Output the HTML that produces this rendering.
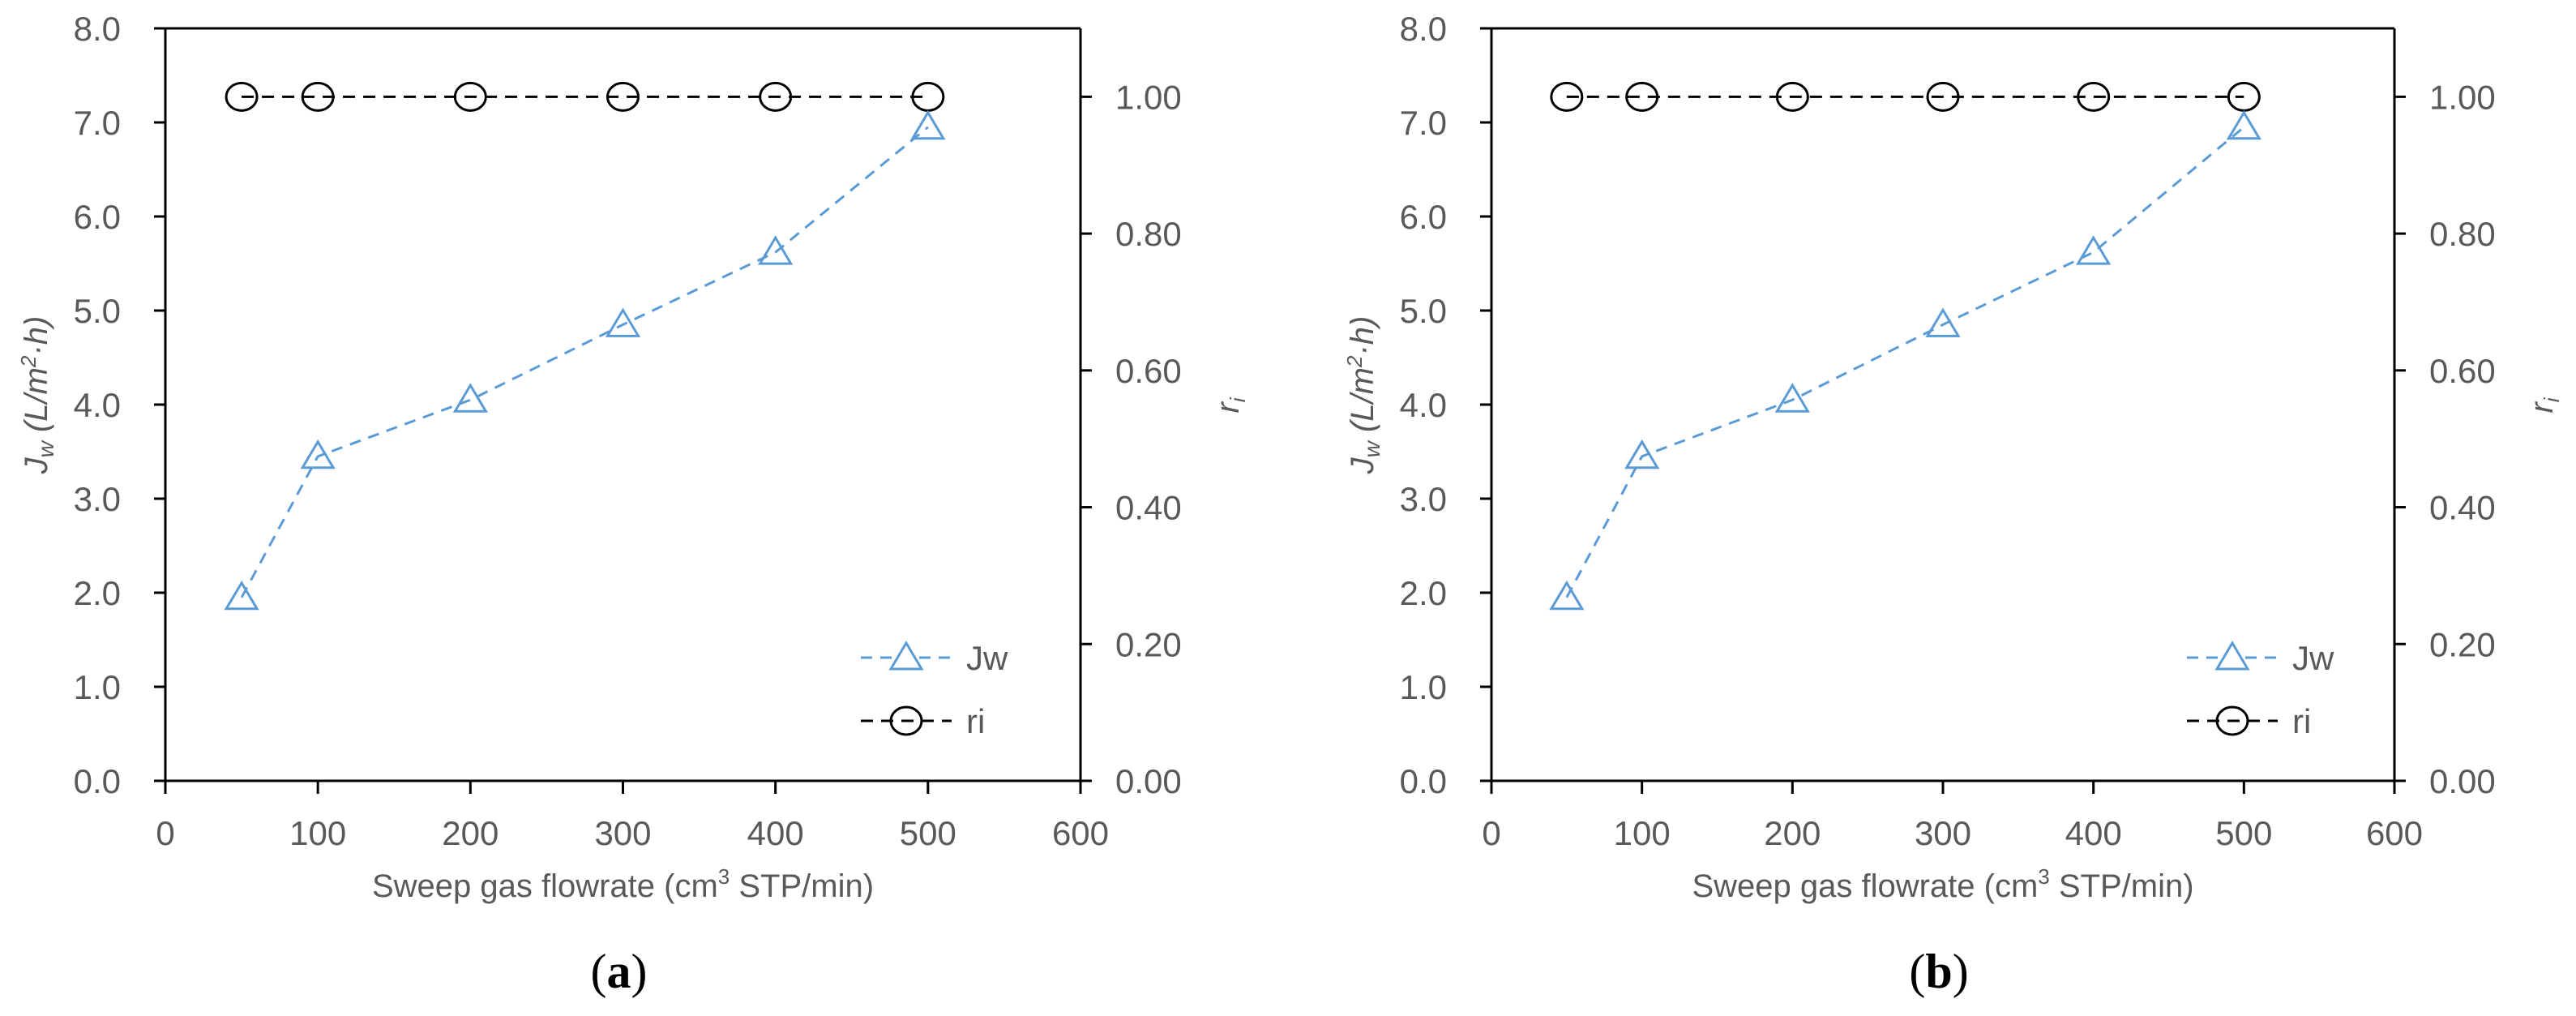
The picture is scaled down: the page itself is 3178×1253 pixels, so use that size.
<!DOCTYPE html>
<html><head><meta charset="utf-8"><style>
html,body{margin:0;padding:0;background:#fff;}
svg{display:block;}
text{font-family:"Liberation Sans",sans-serif;}
</style></head><body>
<svg id="fig" width="3178" height="1253" viewBox="0 0 3178 1253" xmlns="http://www.w3.org/2000/svg"></svg>
<script>
const xValues = [50, 100, 200, 300, 400, 500];
const jwValuesA = [1.95, 3.45, 4.05, 4.85, 5.62, 6.95];
const riValuesA = [1.00, 1.00, 1.00, 1.00, 1.00, 1.00];
const jwValuesB = [1.95, 3.45, 4.05, 4.85, 5.62, 6.95];
const riValuesB = [1.00, 1.00, 1.00, 1.00, 1.00, 1.00];
const xTicks = [0, 100, 200, 300, 400, 500, 600];
const yLeftTicks = [0, 1, 2, 3, 4, 5, 6, 7, 8];
const yRightTicks = [0, 0.2, 0.4, 0.6, 0.8, 1.0];

const NS = "http://www.w3.org/2000/svg";
const svg = document.getElementById('fig');
function mk(tag, attrs, parent) {
  const e = document.createElementNS(NS, tag);
  for (const k in attrs) e.setAttribute(k, attrs[k]);
  (parent || svg).appendChild(e);
  return e;
}
const YT = 35, YB = 963;

function panel(id, x0, x1, jw, ri, label) {
  const g = mk('g', {});
  
  
  const xs = v => x0 + (v - 0) / 600 * (x1 - x0);
  const yl = v => YB - v / 8 * (YB - YT);
  const yr = v => YB - v / 1.1 * (YB - YT);
  const frame = mk('path', {d: `M${x0},${YT} L${x1},${YT} M${x0},${YT} L${x0},${YB} L${x1},${YB} M${x1},${YT} L${x1},${YB}`, stroke: '#000', 'stroke-width': 3, fill: 'none'}, g);
  
  
  xTicks.forEach(t => {
    const x = xs(t);
    mk('line', {x1: x, y1: YB, x2: x, y2: YB + 16, stroke: '#000', 'stroke-width': 3}, g);
    const tx = mk('text', {x: x, y: 1042, 'font-size': 42, fill: '#595959', 'text-anchor': 'middle'}, g);
    tx.textContent = t;
    
    
  });
  yLeftTicks.forEach(t => {
    const y = yl(t);
    mk('line', {x1: x0 - 14, y1: y, x2: x0, y2: y, stroke: '#000', 'stroke-width': 3}, g);
    const tx = mk('text', {x: x0 - 55, y: y + 15, 'font-size': 42, fill: '#595959', 'text-anchor': 'end'}, g);
    tx.textContent = t.toFixed(1);
    
    
  });
  yRightTicks.forEach(t => {
    const y = yr(t);
    mk('line', {x1: x1, y1: y, x2: x1 + 14, y2: y, stroke: '#000', 'stroke-width': 3}, g);
    const tx = mk('text', {x: x1 + 43, y: y + 15, 'font-size': 42, fill: '#595959'}, g);
    tx.textContent = t.toFixed(2);
    
    
  });
  const xt = mk('text', {x: (x0 + x1) / 2, y: 1106, 'font-size': 40, fill: '#595959', 'text-anchor': 'middle'}, g);
  xt.innerHTML = 'Sweep gas flowrate (cm<tspan font-size="26" dy="-16">3</tspan><tspan dy="16"> STP/min)</tspan>';
  
  
  const ylt = mk('text', {x: 0, y: 0, 'font-size': 40, fill: '#595959', 'text-anchor': 'middle', 'font-style': 'italic', transform: `translate(${x0 - 146},487) rotate(-90)`}, g);
  ylt.innerHTML = 'J<tspan font-size="28" dy="8">w</tspan><tspan dy="-8"> (L/m</tspan><tspan font-size="26" dy="-14">2</tspan><tspan dy="14">·h)</tspan>';
  
  
  const yrt = mk('text', {x: 0, y: 0, 'font-size': 40, fill: '#595959', 'text-anchor': 'middle', 'font-style': 'italic', transform: `translate(${x1 + 195},500) rotate(-90)`}, g);
  yrt.innerHTML = 'r<tspan font-size="26" dy="8">i</tspan>';
  
  
  const rip = mk('polyline', {points: xValues.map((v, i) => `${xs(v)},${yr(ri[i])}`).join(' '), fill: 'none', stroke: '#000', 'stroke-width': 3, 'stroke-dasharray': '15 10'}, g);
  
  
  xValues.forEach((v, i) => {
    const c = mk('ellipse', {cx: xs(v), cy: yr(ri[i]), rx: 19, ry: 17, fill: 'none', stroke: '#000', 'stroke-width': 3}, g);
    
    
  });
  const jwp = mk('polyline', {points: xValues.map((v, i) => `${xs(v)},${yl(jw[i])}`).join(' '), fill: 'none', stroke: '#5B9BD5', 'stroke-width': 3, 'stroke-dasharray': '14 10'}, g);
  
  
  const tri = (cx, cy) => `M${cx},${cy - 18} L${cx + 19},${cy + 14} L${cx - 19},${cy + 14} Z`;
  xValues.forEach((v, i) => {
    const t = mk('path', {d: tri(xs(v), yl(jw[i])), fill: 'none', stroke: '#5B9BD5', 'stroke-width': 3}, g);
    
    
  });
  const lg = mk('g', {}, g);
  
  
  const lx0 = x0 + 858, lx1 = x0 + 970, lcx = (lx0 + lx1) / 2;
  mk('line', {x1: lx0, y1: 811, x2: lx1, y2: 811, stroke: '#5B9BD5', 'stroke-width': 3, 'stroke-dasharray': '14 10'}, lg);
  mk('path', {d: tri(lcx, 811), fill: '#fff', stroke: '#5B9BD5', 'stroke-width': 3}, lg);
  const l1 = mk('text', {x: x0 + 988, y: 826, 'font-size': 42, fill: '#595959'}, lg);
  l1.textContent = 'Jw';
  
  
  mk('line', {x1: lx0, y1: 889, x2: lx1, y2: 889, stroke: '#000', 'stroke-width': 3, 'stroke-dasharray': '15 10'}, lg);
  mk('ellipse', {cx: lcx, cy: 889, rx: 19, ry: 17, fill: 'none', stroke: '#000', 'stroke-width': 3}, lg);
  const l2 = mk('text', {x: x0 + 988, y: 904, 'font-size': 42, fill: '#595959'}, lg);
  l2.textContent = 'ri';
  
  
  const pl = mk('text', {x: (x0 + x1) / 2 - 5, y: 1218, 'font-size': 60, fill: '#000', 'text-anchor': 'middle', style: 'font-family:"Liberation Serif",serif'}, g);
  pl.innerHTML = '(<tspan font-weight="bold">' + label + '</tspan>)';
  
  
}
panel('a', 204, 1333, jwValuesA, riValuesA, 'a');
panel('b', 1840, 2954, jwValuesB, riValuesB, 'b');
</script>
</body></html>
